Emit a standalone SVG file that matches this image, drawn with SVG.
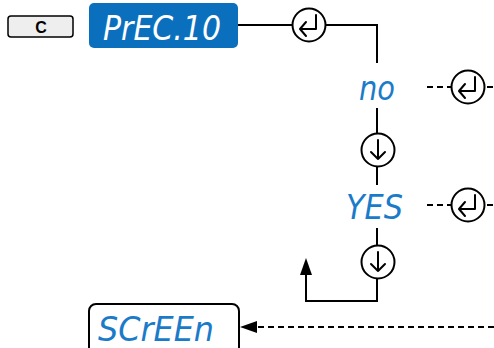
<svg xmlns="http://www.w3.org/2000/svg" width="494" height="348" viewBox="0 0 494 348">
<defs>
<style>
.ln{fill:none;stroke:#000;stroke-width:2}
.dash{fill:none;stroke:#000;stroke-width:2;stroke-dasharray:6 4}
.circ{fill:#fff;stroke:#000;stroke-width:2}
.ic{fill:none;stroke:#000;stroke-width:2;stroke-linecap:round;stroke-linejoin:round}
.head{fill:#000}
.seg{font-family:"DejaVu Sans",sans-serif;font-style:italic;font-size:34px}
.blue{fill:#1b7bc9}
</style>
<g id="enter"><circle class="circ" cx="0" cy="0" r="16.5"/><path class="ic" d="M7,-10 V4 H-9 M-3,-3 L-9,4 L-3,11"/></g>
<g id="down"><circle class="circ" cx="0" cy="0" r="16.5"/><path class="ic" d="M0,-10 V9 M-7,2 L0,9 L7,2"/></g>
</defs>
<g id="connectors">
<path class="ln" d="M238,25 H377 V63"/>
<path class="ln" d="M377,108 V185"/>
<path class="ln" d="M377,228 V301 H306 V272"/>
<polygon class="head" points="306,258 300,275 312,275"/>
<path class="dash" d="M427,87 H494"/>
<path class="dash" d="M427,205 H494"/>
<path class="dash" d="M494,327 H254"/>
<polygon class="head" points="240,327 257,321 257,333"/>
<use href="#enter" x="309" y="25"/>
<use href="#enter" x="468" y="87"/>
<use href="#enter" x="468" y="205"/>
<use href="#down" x="378" y="150"/>
<use href="#down" x="378" y="262"/>
</g>
<g id="btn-c">
<rect x="8" y="16" width="65" height="21" rx="3" fill="#eeeeee" stroke="#000" stroke-width="1.5"/>
<text x="41" y="32.5" font-family="Liberation Sans,sans-serif" font-weight="bold" font-size="16" text-anchor="middle">C</text>
</g>
<g id="prec">
<rect x="89" y="3" width="149" height="45" rx="5" fill="#0a70be"/>
<text class="seg" x="103" y="40" fill="#fff" textLength="118" lengthAdjust="spacingAndGlyphs">PrEC.10</text>
</g>
<g id="no">
<text class="seg blue" x="359" y="100" textLength="36" lengthAdjust="spacingAndGlyphs" font-size="30">no</text>
</g>
<g id="yes">
<text class="seg blue" x="346" y="219" textLength="57" lengthAdjust="spacingAndGlyphs" font-size="37">YES</text>
</g>
<g id="screen">
<rect x="89" y="304" width="150" height="50" rx="7" fill="#fff" stroke="#000" stroke-width="2"/>
<text class="seg blue" x="98" y="341" textLength="116" lengthAdjust="spacingAndGlyphs">SCrEEn</text>
</g>
</svg>
